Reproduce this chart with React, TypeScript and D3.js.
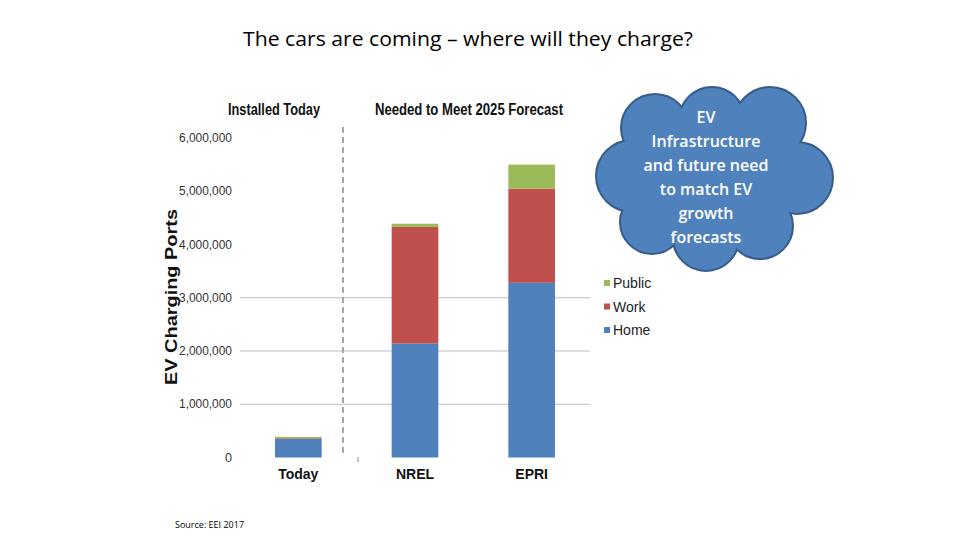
import React, { useEffect, useRef } from "react";
import * as d3 from "d3";

// chart data
const categories = ["Today", "NREL", "EPRI"];
const seriesNames = ["Home", "Work", "Public"];
const homeValues = [350000, 2140000, 3280000];
const workValues = [12000, 2190000, 1770000];
const publicValues = [25000, 60000, 450000];
const yTicks = [0, 1000000, 2000000, 3000000, 4000000, 5000000, 6000000];
const gridTicks = [1000000, 2000000, 3000000];
const cloudLines = [
  "EV",
  "Infrastructure",
  "and future need",
  "to match EV",
  "growth",
  "forecasts",
];

const colors: Record<string, string> = {
  Home: "#4F81BD",
  Work: "#C0504D",
  Public: "#9BBB59",
};

const App: React.FC = () => {
  const svgRef = useRef<SVGSVGElement>(null);

  useEffect(() => {
    if (!svgRef.current) return;
    const width = 960;
    const height = 540;
    const plot = { left: 240, right: 590, top: 138, bottom: 457.5 };

    const svg = d3
      .select(svgRef.current)
      .attr("width", width)
      .attr("height", height);
    svg.selectAll("*").remove();

    svg
      .append("rect")
      .attr("width", width)
      .attr("height", height)
      .attr("fill", "#fff");

    // scales
    const x = d3
      .scaleBand<string>()
      .domain(categories)
      .range([plot.left, plot.right])
      .paddingInner(0.6)
      .paddingOuter(0.3);

    const y = d3
      .scaleLinear()
      .domain([0, 6000000])
      .range([plot.bottom, plot.top]);

    // title
    svg
      .append("text")
      .attr("x", 468)
      .attr("y", 46)
      .attr("text-anchor", "middle")
      .attr("font-family", "Open Sans, sans-serif")
      .attr("font-size", 20)
      .attr("fill", "#000")
      .attr("textLength", 450)
      .attr("lengthAdjust", "spacingAndGlyphs")
      .text("The cars are coming \u2013 where will they charge?");

    // section headers
    const header = (tx: number, w: number, label: string) =>
      svg
        .append("text")
        .attr("x", tx)
        .attr("y", 115)
        .attr("font-family", "Liberation Sans Narrow, Liberation Sans, sans-serif")
        .attr("font-weight", "bold")
        .attr("font-size", 16)
        .attr("fill", "#111")
        .attr("textLength", w)
        .attr("lengthAdjust", "spacingAndGlyphs")
        .text(label);
    header(228, 92, "Installed Today");
    header(375, 188, "Needed to Meet 2025 Forecast");

    // gridlines (only lower ones visible in reference)
    svg
      .append("g")
      .selectAll("line")
      .data(gridTicks)
      .join("line")
      .attr("x1", plot.left)
      .attr("x2", plot.right)
      .attr("y1", (d) => y(d))
      .attr("y2", (d) => y(d))
      .attr("stroke", "#BDBDBD")
      .attr("stroke-width", 1);

    // y tick labels
    svg
      .append("g")
      .selectAll("text")
      .data(yTicks)
      .join("text")
      .attr("x", 232)
      .attr("y", (d) => y(d) + 4)
      .attr("text-anchor", "end")
      .attr("font-family", "Liberation Sans, Arial, sans-serif")
      .attr("font-size", 12)
      .attr("fill", "#333")
      .attr("textLength", (d) => (d === 0 ? 7 : 53))
      .attr("lengthAdjust", "spacingAndGlyphs")
      .text((d) => d3.format(",")(d));

    // y axis title
    svg
      .append("text")
      .attr("transform", "translate(177,297) rotate(-90)")
      .attr("text-anchor", "middle")
      .attr("font-family", "Liberation Sans, Arial, sans-serif")
      .attr("font-weight", "bold")
      .attr("font-size", 16)
      .attr("fill", "#111")
      .attr("textLength", 176)
      .attr("lengthAdjust", "spacingAndGlyphs")
      .text("EV Charging Ports");

    // dashed separator
    svg
      .append("line")
      .attr("x1", 343)
      .attr("x2", 343)
      .attr("y1", 127)
      .attr("y2", 455)
      .attr("stroke", "#A6A6A6")
      .attr("stroke-width", 2)
      .attr("stroke-dasharray", "6,4");
    svg
      .append("line")
      .attr("x1", 358)
      .attr("x2", 358)
      .attr("y1", 457)
      .attr("y2", 462)
      .attr("stroke", "#888")
      .attr("stroke-width", 1);

    // stacked bars
    const table = categories.map((c, i) => ({
      category: c,
      Home: homeValues[i],
      Work: workValues[i],
      Public: publicValues[i],
    }));
    const stack = d3.stack<any>().keys(seriesNames)(table);

    svg
      .append("g")
      .selectAll("g")
      .data(stack)
      .join("g")
      .attr("fill", (d) => colors[d.key])
      .selectAll("rect")
      .data((d) => d)
      .join("rect")
      .attr("x", (d) => x(d.data.category)!)
      .attr("width", x.bandwidth())
      .attr("y", (d) => y(d[1]))
      .attr("height", (d) => y(d[0]) - y(d[1]));

    // x labels
    svg
      .append("g")
      .selectAll("text")
      .data(categories)
      .join("text")
      .attr("x", (d) => x(d)! + x.bandwidth() / 2)
      .attr("y", 479)
      .attr("text-anchor", "middle")
      .attr("font-family", "Liberation Sans Narrow, Liberation Sans, sans-serif")
      .attr("font-weight", "bold")
      .attr("font-size", 14)
      .attr("fill", "#111")
      .text((d) => d);

    // legend
    const legendItems = [...seriesNames].reverse();
    const legend = svg
      .append("g")
      .selectAll("g")
      .data(legendItems)
      .join("g")
      .attr("transform", (_, i) => `translate(604,${284 + i * 23.5})`);
    legend
      .append("rect")
      .attr("x", 0)
      .attr("y", -4)
      .attr("width", 6)
      .attr("height", 6)
      .attr("fill", (d) => colors[d]);
    legend
      .append("text")
      .attr("x", 9)
      .attr("y", 4)
      .attr("font-family", "Liberation Sans Narrow, Liberation Sans, sans-serif")
      .attr("font-size", 14)
      .attr("fill", "#222")
      .text((d) => d);

    // cloud callout
    const bumps = [
      { cx: 655, cy: 128, r: 33 },
      { cx: 712, cy: 120, r: 32 },
      { cx: 770, cy: 123, r: 35 },
      { cx: 797, cy: 178, r: 35 },
      { cx: 760, cy: 226, r: 32 },
      { cx: 706, cy: 238, r: 32 },
      { cx: 652, cy: 222, r: 31 },
      { cx: 632, cy: 176, r: 35 },
      { cx: 712, cy: 178, r: 65 },
    ];
    const cloud = svg.append("g");
    cloud
      .selectAll("circle.outline")
      .data(bumps)
      .join("circle")
      .attr("class", "outline")
      .attr("cx", (d) => d.cx)
      .attr("cy", (d) => d.cy)
      .attr("r", (d) => d.r)
      .attr("fill", "#385D8A")
      .attr("stroke", "#385D8A")
      .attr("stroke-width", 4);
    cloud
      .selectAll("circle.fill")
      .data(bumps)
      .join("circle")
      .attr("class", "fill")
      .attr("cx", (d) => d.cx)
      .attr("cy", (d) => d.cy)
      .attr("r", (d) => d.r)
      .attr("fill", "#4F81BD");

    cloud
      .selectAll("text")
      .data(cloudLines)
      .join("text")
      .attr("x", 706)
      .attr("y", (_, i) => 123 + i * 24)
      .attr("text-anchor", "middle")
      .attr("font-family", "Open Sans, sans-serif")
      .attr("font-weight", 600)
      .attr("font-size", 16)
      .attr("fill", "#fff")
      .text((d) => d);

    // source
    svg
      .append("text")
      .attr("x", 175)
      .attr("y", 528)
      .attr("font-family", "Open Sans, sans-serif")
      .attr("font-size", 9)
      .attr("fill", "#000")
      .text("Source: EEI 2017");
  }, []);

  return (
    <div style={{ position: "absolute", left: 0, top: 0 }}>
      <svg ref={svgRef} style={{ display: "block" }}></svg>
    </div>
  );
};

export default App;
